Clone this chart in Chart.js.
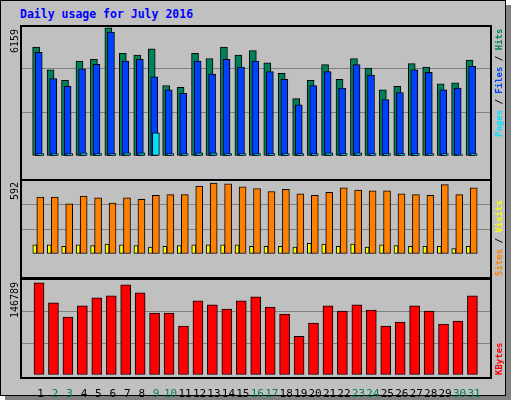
<!DOCTYPE html>
<html>
<head>
<meta charset="utf-8">
<script src="https://cdn.jsdelivr.net/npm/chart.js@4"></script>
<style>
  body { margin: 0; background: #fff; width: 512px; height: 400px; overflow: hidden; font-family: "DejaVu Sans Mono", monospace; }
  .frame { position: absolute; left: 0; top: 0; width: 504px; height: 394px; background: #c0c0c0; border: 1px solid #000; box-shadow: 5px 5px 0 #808080; }
  .panel { position: absolute; box-sizing: border-box; border: 2px solid #000; pointer-events: none; }
  canvas { position: absolute; }
  .title { position: absolute; left: 20px; top: 7px; color: #0000ff; font-weight: bold; font-size: 11.5px; }
  .vlab { position: absolute; transform-origin: left top; transform: rotate(-90deg); font-size: 10px; white-space: nowrap; }
  .leg { font-size: 9px; font-weight: bold; }
</style>
</head>
<body>
<div class="frame"></div>
<div class="title">Daily usage for July 2016</div>

<canvas id="c1" width="471" height="155" style="left:20px;top:25px"></canvas>
<canvas id="c2" width="471" height="98" style="left:20px;top:180px"></canvas>
<canvas id="c3" width="471" height="120" style="left:20px;top:279px"></canvas>

<div class="panel" style="left:20px;top:25px;width:472px;height:156px"></div>
<div class="panel" style="left:20px;top:179px;width:472px;height:100px"></div>
<div class="panel" style="left:20px;top:278px;width:472px;height:101px"></div>

<div class="vlab" style="left:9px;top:53px;color:#000">6159</div>
<div class="vlab" style="left:9px;top:200px;color:#000">592</div>
<div class="vlab" style="left:9px;top:318px;color:#000">146789</div>

<div class="vlab leg" style="left:494px;top:137px"><span style="color:#00e0ff">Pages</span> / <span style="color:#0040ff">Files</span> / <span style="color:#00805c">Hits</span></div>
<div class="vlab leg" style="left:494px;top:276px"><span style="color:#ff8000">Sites</span> / <span style="color:#ffff00">Visits</span></div>
<div class="vlab leg" style="left:494px;top:375px;color:#ff0000">KBytes</div>

<script>
const days = Array.from({ length: 31 }, (_, i) => i + 1);
const weekends = [2, 3, 9, 10, 16, 17, 23, 24, 30, 31];

const hits = [5120, 4052, 3560, 4463, 4545, 6023, 4832, 4750, 5038, 3313, 3231, 4832, 4586, 5120, 4750, 4956,
              4381, 3888, 2698, 3560, 4299, 3601, 4586, 4134, 3108, 3272, 4340, 4176, 3396, 3437, 4504];
const files = [4874, 3642, 3272, 4093, 4311, 5830, 4463, 4545, 3724, 3108, 2944, 4463, 3847, 4545, 4176, 4463,
               3970, 3601, 2410, 3313, 3970, 3190, 4299, 3806, 2656, 2985, 4052, 3929, 3108, 3190, 4217];
const pages = [110, 110, 110, 150, 110, 110, 150, 150, 1095, 110, 110, 150, 150, 110, 110, 110,
               110, 110, 110, 110, 150, 110, 150, 110, 110, 110, 110, 110, 110, 70, 110];
const sites = [456, 456, 401, 463, 450, 407, 450, 438, 469, 475, 475, 543, 567, 561, 537, 524,
               500, 518, 481, 469, 493, 530, 512, 506, 506, 481, 475, 469, 555, 475, 530];
const visits = [74, 74, 62, 74, 68, 80, 74, 68, 56, 62, 68, 74, 74, 74, 74, 62,
                62, 62, 56, 86, 80, 62, 80, 56, 74, 68, 62, 62, 62, 43, 62];
const kbytes = [141110, 110210, 88580, 105575, 117935, 121025, 138020, 125660, 94760, 94760, 74675, 113300,
                107120, 100940, 113300, 119480, 104030, 93215, 59225, 79310, 105575, 97850, 107120, 99395,
                74675, 80855, 105575, 97850, 77765, 82400, 121025];

function pts(values, shift) {
    return values.map((v, i) => ({ x: days[i] + shift, y: v }));
}

function bar(values, shift, color, width, order) {
    return {
        data: pts(values, shift),
        backgroundColor: color,
        borderColor: '#000',
        borderWidth: 1,
        borderSkipped: false,
        barThickness: width,
        grouped: false,
        order: order
    };
}

function makeChart(id, datasets, max, showX) {
    new Chart(document.getElementById(id), {
        type: 'bar',
        data: { datasets: datasets },
        options: {
            responsive: false,
            animation: false,
            layout: { padding: 0 },
            plugins: { legend: { display: false }, tooltip: { enabled: false } },
            scales: {
                x: {
                    type: 'linear',
                    min: 0.1,
                    max: 31.65,
                    display: showX,
                    grid: { display: false },
                    border: { display: false },
                    afterBuildTicks: s => { s.ticks = days.map(v => ({ value: v })); },
                    afterFit: s => { s.height = 24; },
                    ticks: {
                        autoSkip: false,
                        maxRotation: 0,
                        padding: 5,
                        font: { family: 'DejaVu Sans Mono', size: 11 },
                        color: c => weekends.includes(c.tick.value) ? '#00805c' : '#000'
                    }
                },
                y: {
                    min: 0,
                    max: max,
                    afterBuildTicks: s => { s.ticks = [0, max / 3, 2 * max / 3, max].map(v => ({ value: v })); },
                    afterFit: s => { s.width = 0; },
                    ticks: { display: false },
                    grid: { drawTicks: false, color: c => (c.tick.value > 0 && c.tick.value < max) ? '#808080' : 'rgba(0,0,0,0)', lineWidth: 1 },
                    border: { display: false }
                }
            }
        }
    });
}

makeChart('c1', [
    bar(hits, -0.31, '#00805c', 7, 3),
    bar(files, -0.13, '#0040ff', 7, 2),
    bar(pages, -0.02, '#00e0ff', 7, 1)
], 6159, false);

makeChart('c2', [
    bar(visits, -0.40, '#ffff00', 4, 1),
    bar(sites, -0.02, '#ff8000', 7, 2)
], 592, false);

makeChart('c3', [
    bar(kbytes, -0.11, '#ff0000', 10, 1)
], 146789, true);
</script>
</body>
</html>
